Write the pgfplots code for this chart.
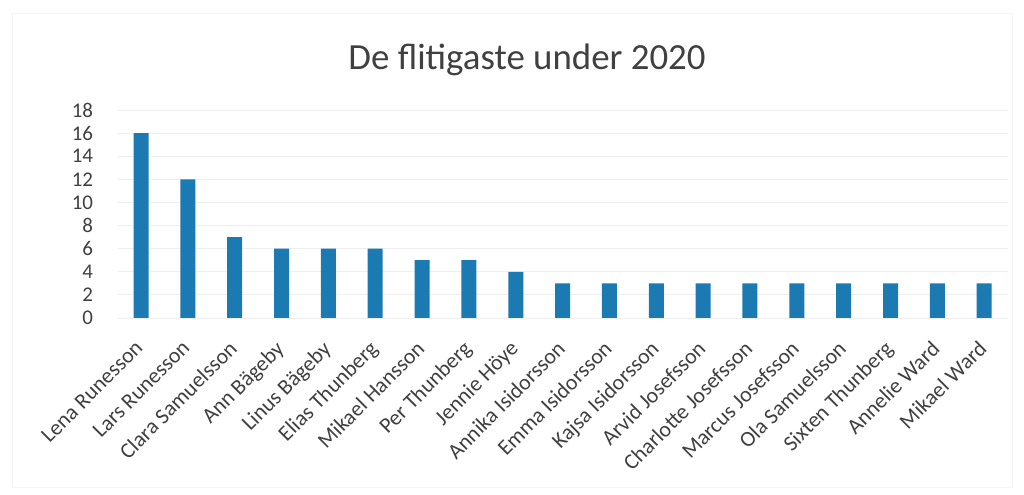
\documentclass[border=0pt]{standalone}
\usepackage{pgfplots}
\pgfplotsset{compat=1.18}
\usepackage{fontspec}
\setmainfont{Carlito}
\definecolor{barblue}{RGB}{28,122,178}
\definecolor{txt}{RGB}{64,64,64}
\definecolor{gridc}{RGB}{238,238,238}
\begin{document}
\begin{tikzpicture}[x=1bp,y=1bp]
\useasboundingbox (0,0) rectangle (1024,495);
\draw[gray!8, line width=0.8bp] (12,8) rectangle (1012,482);
\node[txt, font=\fontsize{37}{42}\selectfont] at (527,435) {De flitigaste under 2020};
\begin{axis}[
  at={(117.6bp,177bp)}, anchor=south west,
  scale only axis, width=890bp, height=208bp,
  xmin=-0.5, xmax=18.5, ymin=0, ymax=18,
  ytick={0,2,...,18},
  xtick=data,
  xticklabels={Lena Runesson,Lars Runesson,Clara Samuelsson,Ann Bägeby,Linus Bägeby,Elias Thunberg,Mikael Hansson,Per Thunberg,Jennie Höye,Annika Isidorsson,Emma Isidorsson,Kajsa Isidorsson,Arvid Josefsson,Charlotte Josefsson,Marcus Josefsson,Ola Samuelsson,Sixten Thunberg,Annelie Ward,Mikael Ward},
  xticklabel style={rotate=45, anchor=north east, font=\fontsize{22}{25}\selectfont, text=txt, inner sep=1bp, yshift=-9bp, xshift=-19bp},
  yticklabel style={font=\fontsize{21}{24}\selectfont, text=txt, xshift=-21bp},
  /pgf/number format/assume math mode=true,
  axis line style={draw=none},
  major tick length=0pt,
  xmajorgrids=false,
  ymajorgrids=true, grid style={draw=gridc, line width=0.8bp},
  axis x line*=bottom,
  x axis line style={draw=gridc, line width=0.8bp},
]
\addplot[ybar, bar width=15bp, fill=barblue, draw=none] coordinates {
(0,16) (1,12) (2,7) (3,6) (4,6) (5,6) (6,5) (7,5) (8,4) (9,3) (10,3) (11,3) (12,3) (13,3) (14,3) (15,3) (16,3) (17,3) (18,3)};
\end{axis}
\end{tikzpicture}
\end{document}
